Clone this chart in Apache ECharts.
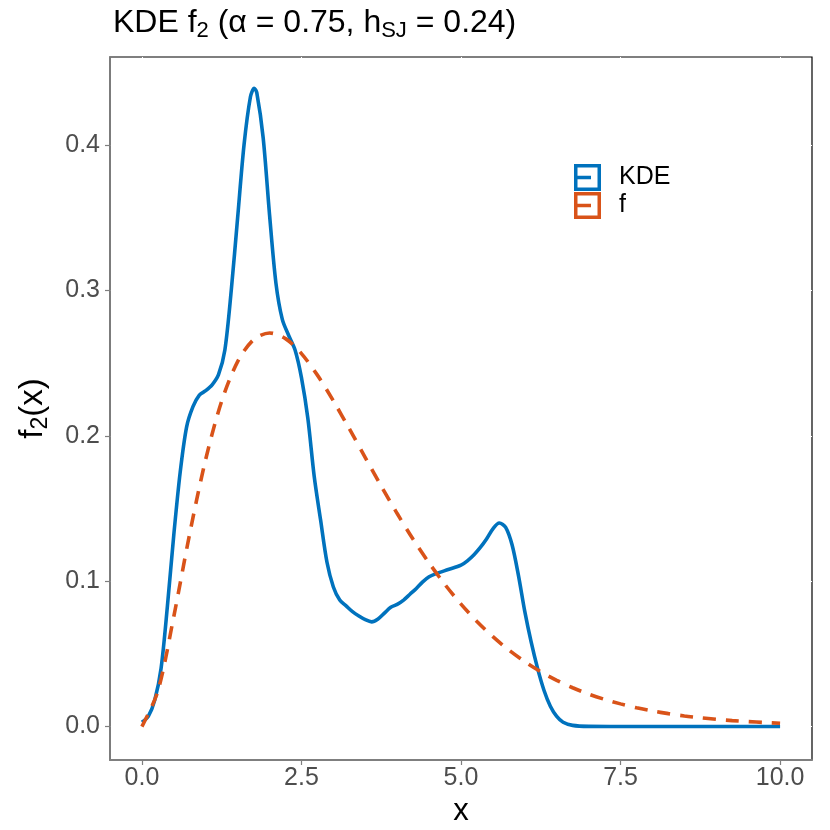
<!DOCTYPE html>
<html>
<head>
<meta charset="utf-8">
<script src="https://cdn.jsdelivr.net/npm/echarts@6/dist/echarts.min.js"></script>
<style>
html,body{margin:0;padding:0;background:#fff;}
#chart{width:830px;height:830px;}
</style>
</head>
<body>
<div id="chart"></div>
<script>
// KDE estimate (blue, solid)
const kdeX = [0.00,0.10,0.20,0.30,0.40,0.50,0.60,0.70,0.80,0.90,1.00,1.10,1.20,1.30,1.40,1.50,1.60,1.70,1.76,1.80,1.90,2.00,2.10,2.20,2.30,2.40,2.50,2.60,2.70,2.80,2.90,3.00,3.10,3.20,3.30,3.40,3.50,3.60,3.70,3.80,3.90,4.00,4.10,4.20,4.30,4.40,4.50,4.60,4.80,5.00,5.10,5.20,5.30,5.40,5.50,5.60,5.70,5.80,5.90,6.00,6.10,6.20,6.30,6.40,6.50,6.60,6.75,7.00,7.50,8.00,8.50,9.00,9.50,10.00];
const kdeY = [0.003,0.007,0.018,0.040,0.083,0.132,0.175,0.206,0.220,0.228,0.231,0.235,0.242,0.259,0.300,0.350,0.400,0.433,0.439,0.436,0.405,0.352,0.305,0.280,0.269,0.259,0.240,0.212,0.172,0.142,0.113,0.096,0.087,0.083,0.079,0.076,0.0735,0.072,0.074,0.078,0.082,0.084,0.087,0.091,0.095,0.0995,0.103,0.105,0.108,0.111,0.114,0.118,0.123,0.129,0.136,0.140,0.137,0.125,0.104,0.079,0.058,0.040,0.025,0.014,0.007,0.003,0.0008,0.0001,0,0,0,0,0,0];
// true density f (orange, dashed)
const fX = [0,0.25,0.5,0.75,1,1.25,1.5,1.75,2,2.25,2.5,2.75,3,3.25,3.5,3.75,4,4.25,4.5,4.75,5,5.25,5.5,5.75,6,6.25,6.5,6.75,7,7.25,7.5,7.75,8,8.25,8.5,8.75,9,9.25,9.5,9.75,10];
const fY = [0,0.0243,0.0758,0.1329,0.1839,0.2238,0.2510,0.2661,0.2707,0.2668,0.2565,0.2417,0.2240,0.2048,0.1850,0.1654,0.1465,0.1288,0.1125,0.0976,0.0842,0.0723,0.0618,0.0526,0.0446,0.0377,0.0318,0.0267,0.0223,0.0187,0.0156,0.0129,0.0107,0.0089,0.0073,0.0061,0.0050,0.0041,0.0034,0.0028,0.0023];
const xTicks = [0, 2.5, 5, 7.5, 10];
const yTicks = [0, 0.1, 0.2, 0.3, 0.4];
const seriesNames = ['KDE', 'f'];
const colors = ['#0072BD', '#D95319'];

const font = "'Liberation Sans', Arial, Helvetica, sans-serif";
const keyIcon = 'path://M0,0H27V27H0Z M3.5,3.5V23.5H23.5V3.5Z M3.5,11.8H17V15.2H3.5Z';

const chart = echarts.init(document.getElementById('chart'), null, {renderer: 'canvas'});
chart.setOption({
  backgroundColor: '#ffffff',
  animation: false,
  title: {
    text: 'KDE f{sub|2} (\u03B1 = 0.75, h{sub|SJ} = 0.24)',
    left: 108, top: 0,
    textStyle: {
      fontFamily: font, fontSize: 32, fontWeight: 'normal', color: '#000',
      rich: { sub: { fontFamily: font, fontSize: 22, verticalAlign: 'bottom', padding: [15, 0, 0, 0], color: '#000' } }
    }
  },
  legend: {
    orient: 'vertical', left: 574, top: 164,
    itemWidth: 27, itemHeight: 27, itemGap: 1, padding: 0,
    data: seriesNames.map((n, i) => ({ name: n, icon: keyIcon, itemStyle: { color: colors[i], borderWidth: 0 } })),
    textStyle: { fontFamily: font, fontSize: 25, color: '#000', padding: [0, 0, 0, 13] }
  },
  grid: { left: 110, right: 18, top: 57, bottom: 70, outerBoundsMode: 'none', containLabel: false,
    show: true, borderColor: '#000000', borderWidth: 1.2, backgroundColor: '#fff' },
  xAxis: {
    type: 'value', min: -0.5, max: 10.5,
    name: 'x', nameLocation: 'middle', nameGap: 24,
    nameTextStyle: { fontFamily: font, fontSize: 31, color: '#000' },
    axisLine: { show: true, onZero: false, lineStyle: { color: '#7f7f7f', width: 1.8 } },
    axisTick: { show: true, length: 5, customValues: xTicks, lineStyle: { color: '#7f7f7f', width: 1.2 } },
    axisLabel: { customValues: xTicks, margin: 6, fontFamily: font, fontSize: 25, color: '#4d4d4d', formatter: v => v.toFixed(1) },
    splitLine: { show: true, lineStyle: { color: '#ffffff', width: 1 } }
  },
  yAxis: {
    type: 'value', min: -0.023, max: 0.4605,
    name: 'f{sub|2}(x)', nameLocation: 'middle', nameGap: 58, nameRotate: 90,
    nameTextStyle: { fontFamily: font, fontSize: 33, color: '#000',
      rich: { sub: { fontFamily: font, fontSize: 23, verticalAlign: 'bottom', padding: [15, 0, 0, 0], color: '#000' } } },
    axisLine: { show: true, onZero: false, lineStyle: { color: '#7f7f7f', width: 1.8 } },
    axisTick: { show: true, length: 5, customValues: yTicks, lineStyle: { color: '#7f7f7f', width: 1.2 } },
    axisLabel: { customValues: yTicks, margin: 10, fontFamily: font, fontSize: 25, color: '#4d4d4d', formatter: v => v.toFixed(1) },
    splitLine: { show: true, lineStyle: { color: '#ffffff', width: 1 } }
  },
  series: [
    {
      name: seriesNames[0], type: 'line', smooth: 0.3, symbol: 'none',
      data: kdeX.map((x, i) => [x, kdeY[i]]),
      itemStyle: { color: colors[0] },
      lineStyle: { color: colors[0], width: 3.6 }, z: 2
    },
    {
      name: seriesNames[1], type: 'line', smooth: 0.3, symbol: 'none',
      data: fX.map((x, i) => [x, fY[i]]),
      itemStyle: { color: colors[1] },
      lineStyle: { color: colors[1], width: 3.6, type: [13, 10] }, z: 3
    }
  ]
});
</script>
</body>
</html>
